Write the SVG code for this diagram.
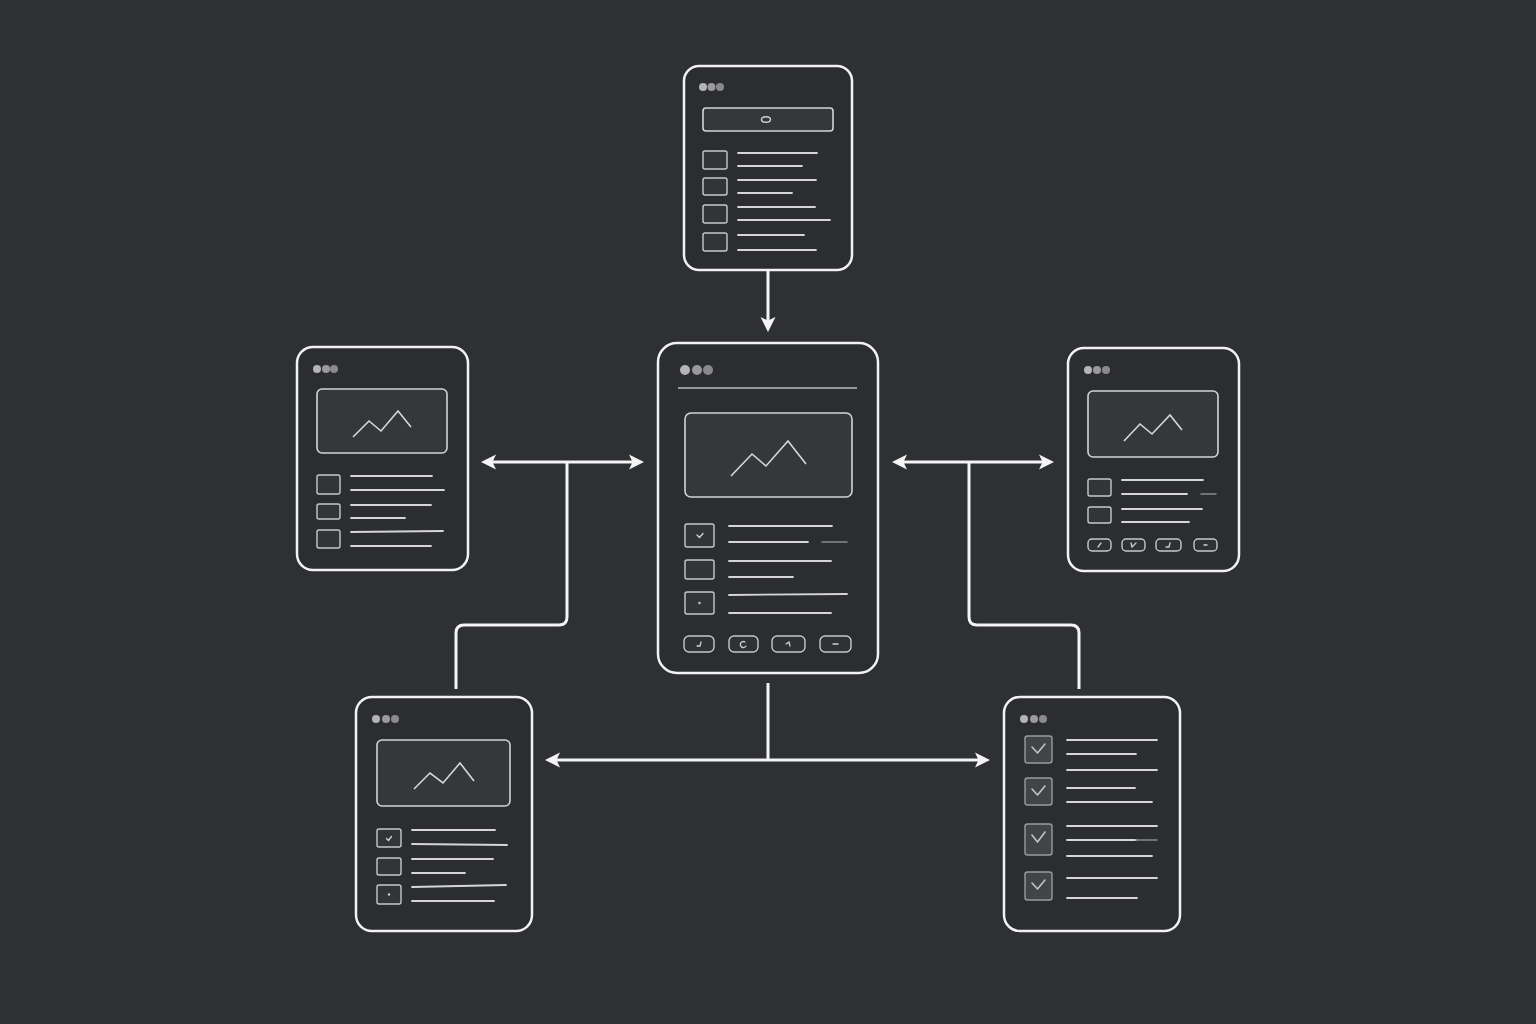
<svg xmlns="http://www.w3.org/2000/svg" width="1536" height="1024" viewBox="0 0 1536 1024">
<defs>
<marker id="ah" markerUnits="userSpaceOnUse" markerWidth="18" markerHeight="18" viewBox="0 0 18 18" refX="6" refY="9" orient="auto-start-reverse">
<path d="M1,1.5 L16,9 L1,16.5 L4.5,9 Z" fill="#f4f4f4"/>
</marker>
</defs>
<style>
.bg{fill:#2e3033}
.node{fill:#2b2d30;stroke:#f2f2f2;stroke-width:2.5}
.img{fill:#35373a;stroke:#d4d4d4;stroke-width:1.6}
.mt{fill:none;stroke:#d8d8d8;stroke-width:1.6;stroke-linejoin:miter}
.cb{fill:#323437;stroke:#c8c8c8;stroke-width:1.4}
.cbf{fill:#424447;stroke:#9a9a9a;stroke-width:1.4}
.ln{stroke:#d6d6d6;stroke-width:1.8;stroke-linecap:round}
.lnf{stroke:#8a8a8a;stroke-width:1.5;stroke-linecap:round}
.hd{stroke:#bdbdbd;stroke-width:1.5}
.ck{fill:none;stroke:#cfcfcf;stroke-width:1.4;stroke-linecap:round;stroke-linejoin:round}
.ckb{fill:none;stroke:#c4c4c4;stroke-width:1.6;stroke-linecap:round;stroke-linejoin:round}
.btn{fill:#2f3134;stroke:#c8c8c8;stroke-width:1.4}
.ic{fill:none;stroke:#cfcfcf;stroke-width:1.3;stroke-linecap:round}
.d1{fill:#b4b4b4}.d2{fill:#9a9a9a}.d3{fill:#8a8a8a}
.con{fill:none;stroke:#f4f4f4;stroke-width:3;stroke-linejoin:round}
</style>
<rect class="bg" x="0" y="0" width="1536" height="1024"/>

<g id="connectors">
<path class="con" d="M768,271 V322" marker-end="url(#ah)"/>
<path class="con" d="M491,462 H634" marker-start="url(#ah)" marker-end="url(#ah)"/>
<path class="con" d="M567,462 V617 Q567,625 559,625 H464 Q456,625 456,633 V689"/>
<path class="con" d="M902,462 H1044" marker-start="url(#ah)" marker-end="url(#ah)"/>
<path class="con" d="M969,462 V617 Q969,625 977,625 H1071 Q1079,625 1079,633 V689"/>
<path class="con" d="M768,683 V760"/>
<path class="con" d="M555,760 H980" marker-start="url(#ah)" marker-end="url(#ah)"/>
</g>

<g id="node-top">
<rect class="node" x="684" y="66" width="168" height="204" rx="15"/>
<circle class="d1" cx="703" cy="87" r="4"/><circle class="d2" cx="711.5" cy="87" r="4"/><circle class="d3" cx="720" cy="87" r="4"/>
<rect class="img" x="703" y="108" width="130" height="23" rx="3"/>
<ellipse cx="766" cy="119.5" rx="4.5" ry="2.8" fill="none" stroke="#d0d0d0" stroke-width="1.4"/>
<rect class="cb" x="703" y="151" width="24" height="18" rx="2"/>
<rect class="cb" x="703" y="178" width="24" height="17" rx="2"/>
<rect class="cb" x="703" y="205" width="24" height="18" rx="2"/>
<rect class="cb" x="703" y="233" width="24" height="18" rx="2"/>
<line class="ln" x1="738" y1="153" x2="817" y2="153"/>
<line class="ln" x1="738" y1="166" x2="802" y2="166"/>
<line class="ln" x1="738" y1="180" x2="816" y2="180"/>
<line class="ln" x1="738" y1="193" x2="792" y2="193"/>
<line class="ln" x1="738" y1="207" x2="815" y2="207"/>
<line class="ln" x1="738" y1="220" x2="830" y2="220"/>
<line class="ln" x1="738" y1="235" x2="804" y2="235"/>
<line class="ln" x1="738" y1="250" x2="816" y2="250"/>
</g>

<g id="node-center">
<rect class="node" x="658" y="343" width="220" height="330" rx="19"/>
<circle class="d1" cx="685" cy="370" r="5"/><circle class="d2" cx="697" cy="370" r="5"/><circle class="d3" cx="708" cy="370" r="5"/>
<line class="hd" x1="678" y1="388" x2="857" y2="388"/>
<rect class="img" x="685" y="413" width="167" height="84" rx="6"/>
<polyline class="mt" points="731,476 752,454 766,466 788,441 806,464"/>
<rect class="cb" x="685" y="524" width="29" height="23" rx="2"/>
<path class="ck" d="M697,535 L699.5,537.5 L703,533.5"/>
<rect class="cb" x="685" y="560" width="29" height="19" rx="2"/>
<rect class="cb" x="685" y="592" width="29" height="22" rx="2"/>
<circle cx="699.5" cy="603" r="1.2" fill="#cfcfcf"/>
<line class="ln" x1="729" y1="526" x2="832" y2="526"/>
<line class="ln" x1="729" y1="542" x2="808" y2="542"/>
<line class="lnf" x1="822" y1="542" x2="847" y2="542"/>
<line class="ln" x1="729" y1="561" x2="831" y2="561"/>
<line class="ln" x1="729" y1="577" x2="793" y2="577"/>
<line class="ln" x1="729" y1="595" x2="847" y2="594"/>
<line class="ln" x1="729" y1="613" x2="831" y2="613"/>
<rect class="btn" x="684" y="636" width="30" height="16" rx="5"/>
<rect class="btn" x="729" y="636" width="29" height="16" rx="5"/>
<rect class="btn" x="772" y="636" width="33" height="16" rx="5"/>
<rect class="btn" x="820" y="636" width="31" height="16" rx="5"/>
<path class="ic" d="M697,646 L700,646 L701,642"/>
<path class="ic" d="M745,642 A3,3 0 1 0 746,646"/>
<path class="ic" d="M786,644 L789,642 L790,646"/>
<path class="ic" d="M833,644 L838,644"/>
</g>

<g id="node-left">
<rect class="node" x="297" y="347" width="171" height="223" rx="16"/>
<circle class="d1" cx="317" cy="369" r="4"/><circle class="d2" cx="326" cy="369" r="4"/><circle class="d3" cx="334" cy="369" r="4"/>
<rect class="img" x="317" y="389" width="130" height="64" rx="5"/>
<polyline class="mt" points="353,437 369,421 381,431 398,411 411,427"/>
<rect class="cb" x="317" y="475" width="23" height="19" rx="2"/>
<rect class="cb" x="317" y="504" width="23" height="15" rx="2"/>
<rect class="cb" x="317" y="530" width="23" height="18" rx="2"/>
<line class="ln" x1="351" y1="476" x2="432" y2="476"/>
<line class="ln" x1="351" y1="490" x2="444" y2="490"/>
<line class="ln" x1="351" y1="505" x2="431" y2="505"/>
<line class="ln" x1="351" y1="518" x2="405" y2="518"/>
<line class="ln" x1="351" y1="532" x2="443" y2="531"/>
<line class="ln" x1="351" y1="546" x2="431" y2="546"/>
</g>

<g id="node-right">
<rect class="node" x="1068" y="348" width="171" height="223" rx="16"/>
<circle class="d1" cx="1088" cy="370" r="4"/><circle class="d2" cx="1097" cy="370" r="4"/><circle class="d3" cx="1106" cy="370" r="4"/>
<rect class="img" x="1088" y="391" width="130" height="66" rx="5"/>
<polyline class="mt" points="1124,441 1140,424 1152,434 1170,415 1182,430"/>
<rect class="cb" x="1088" y="479" width="23" height="17" rx="2"/>
<rect class="cb" x="1088" y="507" width="23" height="16" rx="2"/>
<line class="ln" x1="1122" y1="480" x2="1203" y2="480"/>
<line class="ln" x1="1122" y1="494" x2="1187" y2="494"/>
<line class="lnf" x1="1201" y1="494" x2="1216" y2="494"/>
<line class="ln" x1="1122" y1="509" x2="1202" y2="509"/>
<line class="ln" x1="1122" y1="522" x2="1189" y2="522"/>
<rect class="btn" x="1088" y="539" width="23" height="12" rx="4"/>
<rect class="btn" x="1122" y="539" width="23" height="12" rx="4"/>
<rect class="btn" x="1156" y="539" width="25" height="12" rx="4"/>
<rect class="btn" x="1194" y="539" width="23" height="12" rx="4"/>
<path class="ic" d="M1098,547 L1101,543"/>
<path class="ic" d="M1131,543 L1132,547 L1136,543"/>
<path class="ic" d="M1166,547 L1169,547 L1170,543"/>
<path class="ic" d="M1204,545 L1207,545"/>
</g>

<g id="node-bottom-left">
<rect class="node" x="356" y="697" width="176" height="234" rx="16"/>
<circle class="d1" cx="376" cy="719" r="4"/><circle class="d2" cx="386" cy="719" r="4"/><circle class="d3" cx="395" cy="719" r="4"/>
<rect class="img" x="377" y="740" width="133" height="66" rx="5"/>
<polyline class="mt" points="414,789 430,773 443,783 460,763 474,781"/>
<rect class="cb" x="377" y="829" width="24" height="18" rx="2"/>
<path class="ck" d="M386.5,838.5 L388.5,840.5 L391.5,836.5"/>
<rect class="cb" x="377" y="858" width="24" height="17" rx="2"/>
<rect class="cb" x="377" y="885" width="24" height="19" rx="2"/>
<circle cx="389" cy="894.5" r="1.2" fill="#cfcfcf"/>
<line class="ln" x1="412" y1="830" x2="495" y2="830"/>
<line class="ln" x1="412" y1="844" x2="507" y2="845"/>
<line class="ln" x1="412" y1="859" x2="493" y2="859"/>
<line class="ln" x1="412" y1="873" x2="465" y2="873"/>
<line class="ln" x1="412" y1="887" x2="506" y2="885"/>
<line class="ln" x1="412" y1="901" x2="494" y2="901"/>
</g>

<g id="node-bottom-right">
<rect class="node" x="1004" y="697" width="176" height="234" rx="16"/>
<circle class="d1" cx="1024" cy="719" r="4"/><circle class="d2" cx="1034" cy="719" r="4"/><circle class="d3" cx="1043" cy="719" r="4"/>
<rect class="cbf" x="1025" y="736" width="27" height="27" rx="2.5"/>
<path class="ckb" d="M1032,747 L1037.5,753 L1045,744"/>
<rect class="cbf" x="1025" y="778" width="27" height="27" rx="2.5"/>
<path class="ckb" d="M1032,789 L1037.5,795 L1045,786"/>
<rect class="cbf" x="1025" y="824" width="27" height="31" rx="2.5"/>
<path class="ckb" d="M1032,835 L1037.5,842 L1045,832"/>
<rect class="cbf" x="1025" y="872" width="27" height="28" rx="2.5"/>
<path class="ckb" d="M1032,883 L1037.5,889 L1045,880"/>
<line class="ln" x1="1067" y1="740" x2="1157" y2="740"/>
<line class="ln" x1="1067" y1="754" x2="1136" y2="754"/>
<line class="ln" x1="1067" y1="770" x2="1157" y2="770"/>
<line class="ln" x1="1067" y1="788" x2="1135" y2="788"/>
<line class="ln" x1="1067" y1="802" x2="1152" y2="802"/>
<line class="ln" x1="1067" y1="826" x2="1157" y2="826"/>
<line class="ln" x1="1067" y1="840" x2="1136" y2="840"/>
<line class="lnf" x1="1136" y1="840" x2="1157" y2="840"/>
<line class="ln" x1="1067" y1="856" x2="1152" y2="856"/>
<line class="ln" x1="1067" y1="878" x2="1157" y2="878"/>
<line class="ln" x1="1067" y1="898" x2="1137" y2="898"/>
</g>
</svg>
